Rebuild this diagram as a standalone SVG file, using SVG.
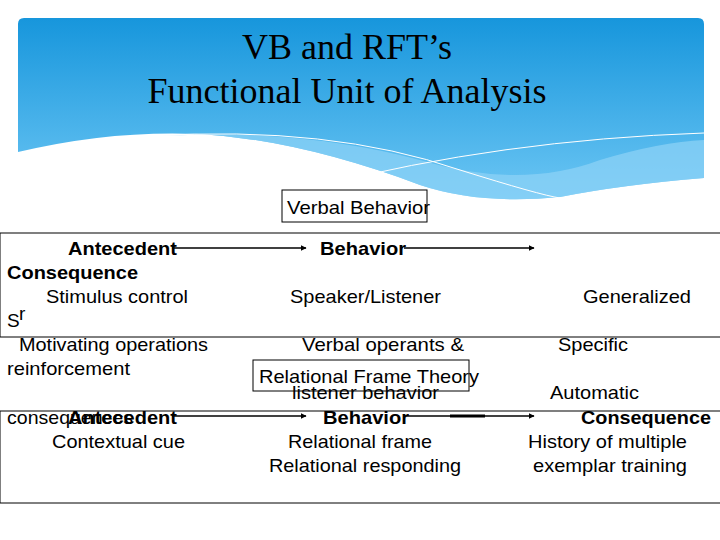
<svg xmlns="http://www.w3.org/2000/svg" width="720" height="540" viewBox="0 0 720 540">
<style>
.t{font-family:"Liberation Sans",Arial,sans-serif;font-size:19px;fill:#000}
.b{font-weight:bold}
.h{font-family:"Liberation Serif","Times New Roman",serif;font-size:36px;fill:#000;text-anchor:middle}
.bx{fill:none;stroke:#000;stroke-width:1}
.ln{stroke:#000;stroke-width:1.5;fill:none}
</style>
<defs>
<linearGradient id="g" x1="0" y1="0" x2="0" y2="1">
<stop offset="0" stop-color="#1796dc"/><stop offset="1" stop-color="#6cc6f4"/>
</linearGradient>
<marker id="a" viewBox="0 0 10 10" refX="9" refY="5" markerWidth="4" markerHeight="4" orient="auto"><path d="M0,0L10,5L0,10z" fill="#000"/></marker>
</defs>
<g id="banner">
<path d="M24,18H698Q704,18 704,24V178Q620,185 560,197Q480,205 420,185Q300,140 200,134Q110,130 18,152V24Q18,18 24,18Z" fill="url(#g)"/>
<path d="M160,136Q300,128 420,160Q520,190 600,160Q660,142 704,140V178Q620,185 560,197Q480,205 420,185Q300,140 200,134Z" fill="#8fd3f7" opacity="0.7"/>
<path d="M150,136Q330,125 460,170Q540,195 560,198" stroke="#fff" stroke-width="1" fill="none"/>
<path d="M320,186Q500,140 704,133" stroke="#fff" stroke-width="1" fill="none"/>
<text class="h" x="347" y="59">VB and RFT’s</text>
<text class="h" x="347" y="103">Functional Unit of Analysis</text>
</g>
<g id="vb"><rect class="bx" x="282" y="190" width="145" height="32"/><text class="t" x="287" y="214" textLength="143" lengthAdjust="spacingAndGlyphs">Verbal Behavior</text></g>
<g id="box1"><rect class="bx" x="0" y="233" width="722" height="104"/></g>
<g id="rft"><rect class="bx" x="253" y="360" width="216" height="31"/><text class="t" x="259" y="383" textLength="220" lengthAdjust="spacingAndGlyphs">Relational Frame Theory</text></g>
<g id="box2"><rect class="bx" x="0" y="411" width="722" height="92"/></g>
<g id="connectors">
<line class="ln" x1="172" y1="248" x2="306" y2="248" marker-end="url(#a)"/>
<line class="ln" x1="404" y1="248" x2="534" y2="248" marker-end="url(#a)"/>
<line class="ln" x1="172" y1="416" x2="306" y2="416" marker-end="url(#a)"/>
<line class="ln" x1="404" y1="416" x2="534" y2="416" marker-end="url(#a)"/>
<line x1="450" y1="416" x2="485" y2="416" stroke="#000" stroke-width="3"/>
</g>
<g id="left">
<text class="t b" x="68" y="255" textLength="109" lengthAdjust="spacingAndGlyphs">Antecedent</text>
<text class="t b" x="7" y="279" textLength="131" lengthAdjust="spacingAndGlyphs">Consequence</text>
<text class="t" x="46" y="303" textLength="142" lengthAdjust="spacingAndGlyphs">Stimulus control</text>
<text class="t" x="7" y="327">S</text><text class="t" x="19" y="320" font-size="10">r</text>
<text class="t" x="19" y="351" textLength="189" lengthAdjust="spacingAndGlyphs">Motivating operations</text>
<text class="t" x="7" y="375" textLength="123" lengthAdjust="spacingAndGlyphs">reinforcement</text>
<text class="t" x="7" y="424" textLength="126" lengthAdjust="spacingAndGlyphs">consequences</text>
<text class="t b" x="68" y="424" textLength="109" lengthAdjust="spacingAndGlyphs">Antecedent</text>
<text class="t" x="52" y="448" textLength="133" lengthAdjust="spacingAndGlyphs">Contextual cue</text>
</g>
<g id="mid">
<text class="t b" x="320" y="255" textLength="86" lengthAdjust="spacingAndGlyphs">Behavior</text>
<text class="t" x="290" y="303" textLength="151" lengthAdjust="spacingAndGlyphs">Speaker/Listener</text>
<text class="t" x="302" y="351" textLength="162" lengthAdjust="spacingAndGlyphs">Verbal operants &amp;</text>
<text class="t" x="292" y="399" textLength="147" lengthAdjust="spacingAndGlyphs">listener behavior</text>
<text class="t b" x="323" y="424" textLength="86" lengthAdjust="spacingAndGlyphs">Behavior</text>
<text class="t" x="288" y="448" textLength="144" lengthAdjust="spacingAndGlyphs">Relational frame</text>
<text class="t" x="269" y="472" textLength="192" lengthAdjust="spacingAndGlyphs">Relational responding</text>
</g>
<g id="right">
<text class="t" x="583" y="303" textLength="108" lengthAdjust="spacingAndGlyphs">Generalized</text>
<text class="t" x="558" y="351" textLength="70" lengthAdjust="spacingAndGlyphs">Specific</text>
<text class="t" x="550" y="399" textLength="89" lengthAdjust="spacingAndGlyphs">Automatic</text>
<text class="t b" x="581" y="424" textLength="130" lengthAdjust="spacingAndGlyphs">Consequence</text>
<text class="t" x="528" y="448" textLength="159" lengthAdjust="spacingAndGlyphs">History of multiple</text>
<text class="t" x="533" y="472" textLength="154" lengthAdjust="spacingAndGlyphs">exemplar training</text>
</g>
</svg>
